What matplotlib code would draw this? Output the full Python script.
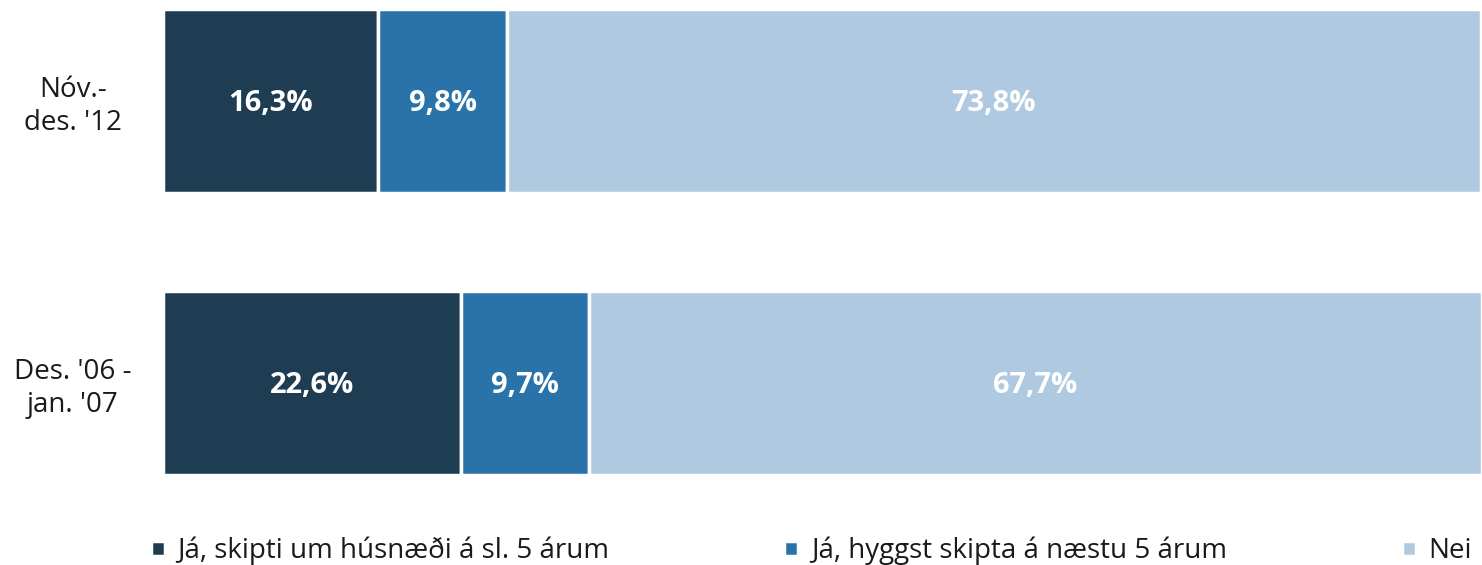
import matplotlib
matplotlib.use("Agg")
import matplotlib.pyplot as plt
import numpy as np

periods = ["Des. '06 -\njan. '07", "Nóv.-\ndes. '12"]
series_names = ["Já, skipti um húsnæði á sl. 5 árum", "Já, hyggst skipta á næstu 5 árum", "Nei"]
values = {
    "Já, skipti um húsnæði á sl. 5 árum": [22.6, 16.3],
    "Já, hyggst skipta á næstu 5 árum": [9.7, 9.8],
    "Nei": [67.7, 73.8],
}
colors = ["#1F3D52", "#2A73AA", "#AFC9E0"]

plt.rcParams['font.family'] = ['Open Sans', 'DejaVu Sans']

fig = plt.figure(figsize=(14.82, 5.65), dpi=100)
ax = fig.add_axes([163/1482, 65/565, 1 - 163/1482, 500/565])

y = np.arange(len(periods))
left = np.zeros(len(periods))
handles = []
for name, c in zip(series_names, colors):
    v = np.array(values[name])
    b = ax.barh(y, v, left=left, height=0.65, color=c, edgecolor="white", linewidth=2.5, label=name)
    handles.append(b)
    for yi, (l, vi) in enumerate(zip(left, v)):
        ax.text(l + vi / 2, yi - 0.01, f"{vi:.1f}%".replace(".", ","), ha="center", va="center",
                color="white", fontsize=21, fontweight="bold")
    left += v

ax.set_xlim(0, 100)
ax.set_ylim(-0.415, 1.358)
ax.set_yticks(y)
ax.set_yticklabels(periods, fontsize=20, color="#1a1a1a", ha="center")
ax.tick_params(axis="y", length=0, pad=65)
ax.set_xticks([])
for s in ax.spines.values():
    s.set_visible(False)

fig.legend(handles=handles, labels=series_names, loc="lower left", bbox_to_anchor=(126/1482, -0.045),
           ncol=3, frameon=False, fontsize=20, handlelength=0.5, handleheight=0.5,
           handletextpad=0.45, columnspacing=6.3, labelcolor="#1a1a1a")

fig.savefig("out.png", dpi=100)
